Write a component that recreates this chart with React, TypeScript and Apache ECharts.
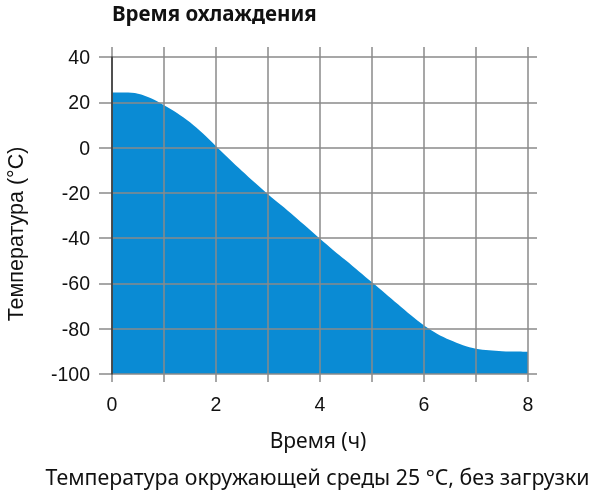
import React, { useEffect, useRef } from "react";
import * as echarts from "echarts";

const hours = [0, 0.25, 0.5, 0.75, 1, 1.25, 1.5, 1.75, 2, 2.25, 2.5, 2.75, 3, 3.25, 3.5, 3.75, 4, 4.25, 4.5, 4.75, 5, 5.25, 5.5, 5.75, 6, 6.25, 6.5, 6.75, 7, 7.25, 7.5, 7.75, 8];
const temps = [24.3, 24.3, 23.8, 21.8, 18.7, 15.3, 11.2, 6.2, 0.6, -4.9, -10.3, -15.5, -20.6, -25.4, -30.2, -35.2, -40.3, -45.2, -49.9, -54.7, -59.5, -64.3, -69.2, -74.1, -78.6, -82.2, -85, -87.3, -88.8, -89.5, -89.9, -90.1, -90.2];
const xTickLabels = ["0", "2", "4", "6", "8"];
const titleText = "Время охлаждения";
const xName = "Время (ч)";
const yName = "Температура (°C)";
const noteText = "Температура окружающей среды 25 °C, без загрузки";

const GRID = "#8a8a8a";
const off = { show: false };

export default function App() {
  const ref = useRef<HTMLDivElement>(null);
  useEffect(() => {
    if (!ref.current) return;
    const chart = echarts.init(ref.current, undefined, { renderer: "svg" });
    chart.setOption({
      animation: false,
      grid: [
        { left: 112, top: 57, width: 416, height: 317 },
        { left: 99, top: 57, width: 438, height: 317 },
        { left: 112, top: 47, width: 416, height: 335 },
      ],
      xAxis: [
        {
          type: "value",
          gridIndex: 0,
          min: 0,
          max: 8,
          interval: 1,
          axisLine: off,
          axisTick: off,
          splitLine: off,
          axisLabel: {
            fontSize: 19.5,
            color: "#111",
            fontFamily: "Liberation Sans",
            margin: 20,
            formatter: (v: number) => (xTickLabels.includes(String(v)) ? String(v) : ""),
          },
          z: 3,
        },
        { type: "value", gridIndex: 1, min: 0, max: 1, show: false },
        {
          type: "value",
          gridIndex: 2,
          min: 0,
          max: 8,
          interval: 1,
          axisLine: off,
          axisTick: off,
          axisLabel: off,
          splitLine: { show: true, lineStyle: { color: GRID, width: 1.5 } },
          z: 3,
        },
      ],
      yAxis: [
        {
          type: "value",
          gridIndex: 0,
          min: -100,
          max: 40,
          interval: 20,
          axisLine: { show: true, lineStyle: { color: "#333", width: 1.5 } },
          axisTick: off,
          splitLine: off,
          axisLabel: { fontSize: 19.5, color: "#111", fontFamily: "Liberation Sans", margin: 22 },
          z: 4,
        },
        {
          type: "value",
          gridIndex: 1,
          min: -100,
          max: 40,
          interval: 20,
          axisLine: off,
          axisTick: off,
          axisLabel: off,
          splitLine: { show: true, lineStyle: { color: GRID, width: 1.5 } },
          z: 3,
        },
        { type: "value", gridIndex: 2, min: 0, max: 1, show: false },
      ],
      series: [
        {
          type: "line",
          xAxisIndex: 0,
          yAxisIndex: 0,
          data: hours.map((h, i) => [h, temps[i]]),
          smooth: 0.3,
          symbol: "none",
          lineStyle: { width: 0 },
          areaStyle: { color: "#0a8bd4", opacity: 1, origin: "start" },
          z: 1,
        },
      ],
      graphic: [
        {
          type: "text",
          left: 112,
          top: 2,
          style: { text: titleText, fontSize: 20.5, fontWeight: "bold", fontFamily: "Noto Sans", fill: "#111" },
        },
        {
          type: "text",
          x: 318,
          y: 440,
          style: { text: xName, fontSize: 21, fontFamily: "Noto Sans", fill: "#111", align: "center", verticalAlign: "middle" },
        },
        {
          type: "text",
          x: 16,
          y: 234,
          rotation: Math.PI / 2,
          style: { text: yName, fontSize: 21.5, fontFamily: "Liberation Sans", fill: "#111", align: "center", verticalAlign: "middle" },
        },
        {
          type: "text",
          x: 317.5,
          y: 476,
          style: { text: noteText, fontSize: 21.3, fontFamily: "Noto Sans", fill: "#111", align: "center", verticalAlign: "middle" },
        },
      ],
    });
    return () => chart.dispose();
  }, []);
  return <div ref={ref} style={{ position: "fixed", left: 0, top: 0, width: 600, height: 498 }} />;
}
